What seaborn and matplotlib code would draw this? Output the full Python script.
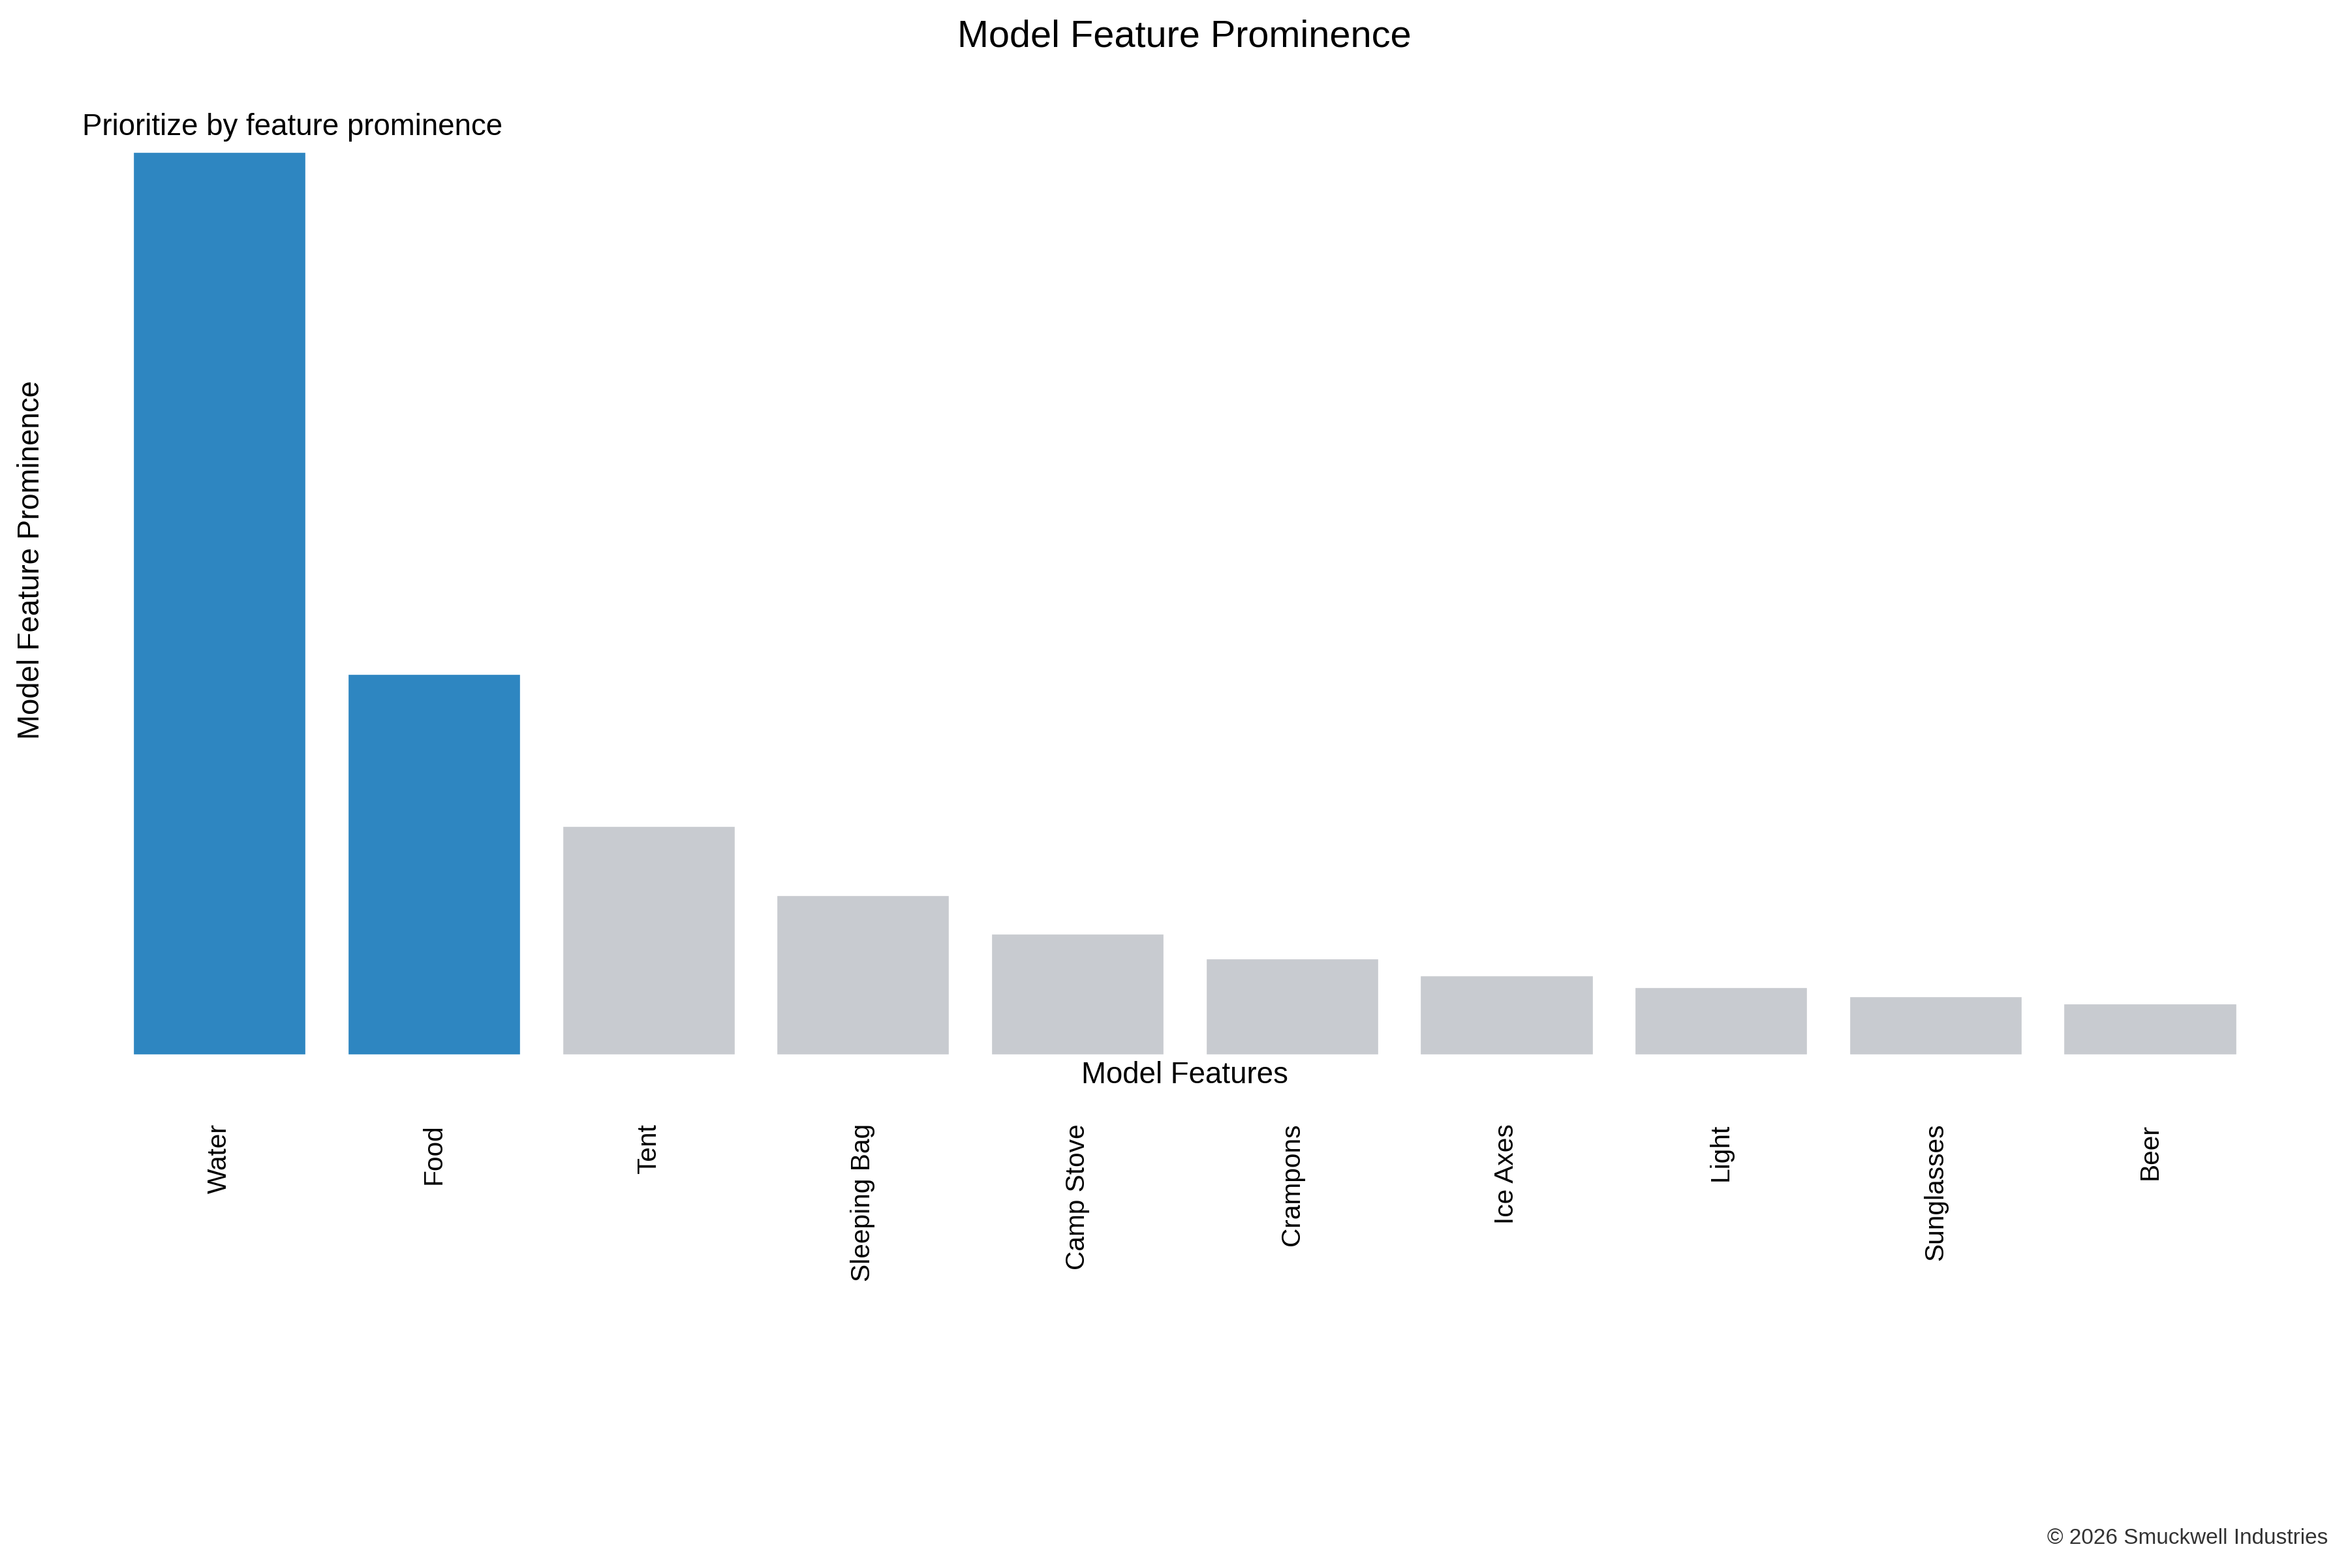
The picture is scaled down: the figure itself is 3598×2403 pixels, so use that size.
# Model feature prominence - bar chart
import matplotlib
matplotlib.use("Agg")
import matplotlib.pyplot as plt
import seaborn as sns
import pandas as pd

# dados
features = ["Water", "Food", "Tent", "Sleeping Bag", "Camp Stove",
            "Crampons", "Ice Axes", "Light", "Sunglasses", "Beer"]
prominence = [0.419, 0.177, 0.1065, 0.0745, 0.0566,
              0.0451, 0.0372, 0.0318, 0.0275, 0.0242]
highlight = ["Water", "Food"]

BLUE = "#2E86C1"
GREY = "#C8CBD0"

sns.set_style("white")
plt.rcParams["font.family"] = ["Liberation Sans", "DejaVu Sans"]
plt.rcParams["text.color"] = "black"
plt.rcParams["axes.labelcolor"] = "black"
plt.rcParams["xtick.color"] = "black"

df = pd.DataFrame({"feature": features, "prominence": prominence})
palette = {f: (BLUE if f in highlight else GREY) for f in features}

fig = plt.figure(figsize=(3598 / 240, 2403 / 240), dpi=240)
ax = fig.add_axes([0.0478, 0.3271, 0.9135, 0.6319])

sns.barplot(data=df, x="feature", y="prominence", hue="feature",
            palette=palette, legend=False, width=0.81, saturation=1, ax=ax)

ax.set_xlim(-0.5, len(features) - 0.5)
ax.set_ylim(0, max(prominence) * 1.096)
sns.despine(ax=ax, left=True, bottom=True)
ax.set_yticks([])
ax.tick_params(axis="x", length=0, pad=31.5, labelsize=12.2, rotation=90)

ax.set_xlabel("Model Features", fontsize=13.7)
ax.xaxis.set_label_coords(0.5, -0.006)
ax.set_ylabel("Model Feature Prominence", fontsize=13.7)
ax.yaxis.set_label_coords(-0.031, 0.5)

fig.text(0.5045, 1 - 72 / 2403, "Model Feature Prominence",
         ha="center", va="baseline", fontsize=17.3)
fig.text(126 / 3598, 1 - 207 / 2403, "Prioritize by feature prominence",
         ha="left", va="baseline", fontsize=13.7)
fig.text(3567 / 3598, 1 - 2366 / 2403, "\u00a9 2026 Smuckwell Industries",
         ha="right", va="baseline", fontsize=10, color="#333333")

fig.savefig("out.png", dpi=240)
